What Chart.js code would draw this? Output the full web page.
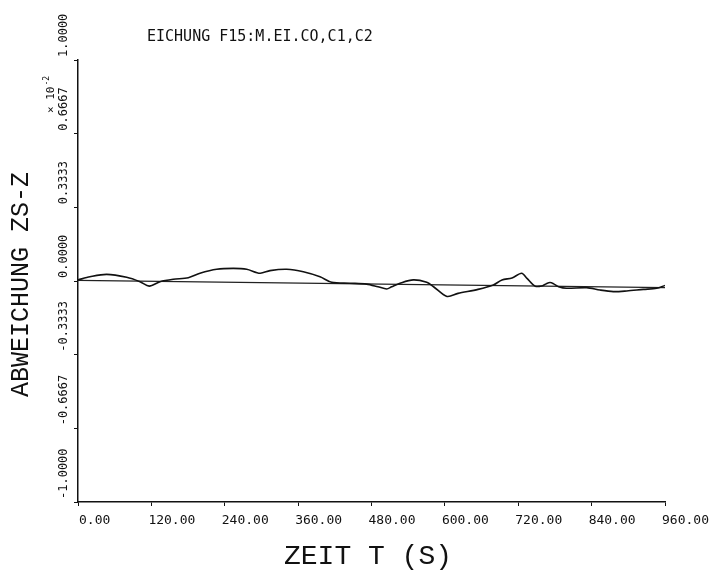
<!DOCTYPE html>
<html><head><meta charset="utf-8">
<script src="https://cdn.jsdelivr.net/npm/chart.js@4"></script>
<style>html,body{margin:0;padding:0;background:#fff}#wrap{width:719px;height:570px}</style>
</head><body><div id="wrap"><canvas id="c" width="719" height="570"></canvas></div>
<script>
// ---- data ----
const times = [0, 19.6, 46.9, 79.6, 101.4, 116.6, 134.1, 155.9, 180.4, 199.5, 226.8, 254, 275.9, 297.7, 314, 341.3, 368.5, 395.8, 414.9, 444.8, 472.1, 490.6, 504.9, 513, 526.6, 548.4, 570.3, 581, 603.5, 621.5, 654.2, 679.2, 693.4, 709.8, 725.6, 734.3, 747.4, 758, 766, 772, 778, 786, 799.2, 831.9, 853.7, 875.4, 897.3, 924.5, 946.4, 960];
const deviation = [0.005, 0.019, 0.030, 0.017, -0.003, -0.023, -0.003, 0.008, 0.015, 0.035, 0.053, 0.057, 0.053, 0.035, 0.047, 0.053, 0.042, 0.019, -0.006, -0.010, -0.014, -0.026, -0.036, -0.026, -0.010, 0.005, -0.006, -0.025, -0.070, -0.056, -0.038, -0.018, 0.005, 0.014, 0.035, 0.012, -0.023, -0.023, -0.012, -0.007, -0.013, -0.026, -0.033, -0.030, -0.041, -0.048, -0.045, -0.038, -0.033, -0.020];
const refTimes = [0, 960];
const refValues = [0.003, -0.030];
const xTicks = [0, 120, 240, 360, 480, 600, 720, 840, 960];
const xTickLabels = ['0.00', '120.00', '240.00', '360.00', '480.00', '600.00', '720.00', '840.00', '960.00'];
const yTicks = [-1, -2/3, -1/3, 0, 1/3, 2/3, 1];
const yTickLabels = ['-1.0000', '-0.6667', '-0.3333', '0.0000', '0.3333', '0.6667', '1.0000'];
const titleText = 'EICHUNG F15:M.EI.CO,C1,C2';
const xTitle = 'ZEIT T (S)';
const yTitle = 'ABWEICHUNG ZS-Z';

const curvePts = times.map((t, i) => ({x: t, y: deviation[i]}));
const refPts = refTimes.map((t, i) => ({x: t, y: refValues[i]}));

const textPlugin = {
  id: 'plotterText',
  afterDraw(chart) {
    const ctx = chart.ctx;
    const xs = chart.scales.x, ys = chart.scales.y;
    ctx.save();
    ctx.fillStyle = '#111';
    // title
    ctx.font = '15px "DejaVu Sans Mono"';
    ctx.textAlign = 'left'; ctx.textBaseline = 'middle';
    ctx.fillText(titleText, 147, 37);
    // x tick labels
    ctx.font = '13px "DejaVu Sans Mono"';
    xTicks.forEach((v, i) => {
      const px = xs.getPixelForValue(v);
      ctx.fillText(xTickLabels[i], i === 0 ? px + 1 : px - 3, 521);
    });
    // x title
    ctx.font = '28px "Liberation Mono"';
    ctx.textAlign = 'center';
    ctx.fillText(xTitle, 368, 557);
    // y tick labels rotated
    ctx.font = '12px "DejaVu Sans Mono"';
    ctx.textAlign = 'left';
    yTicks.forEach((v, i) => {
      const py = ys.getPixelForValue(v);
      ctx.save();
      ctx.translate(64, py - 3);
      ctx.rotate(-Math.PI / 2);
      ctx.fillText(yTickLabels[i], 0, 0);
      ctx.restore();
    });
    // y title
    ctx.save();
    ctx.translate(21, 397);
    ctx.rotate(-Math.PI / 2);
    ctx.font = '25px "Liberation Mono"';
    ctx.fillText(yTitle, 0, 0);
    ctx.restore();
    // scale factor
    ctx.save();
    ctx.translate(51, 113);
    ctx.rotate(-Math.PI / 2);
    ctx.font = '11px "DejaVu Sans Mono"';
    ctx.fillText('\u00d7 10', 0, 0);
    const w = ctx.measureText('\u00d7 10').width;
    ctx.font = '8px "DejaVu Sans Mono"';
    ctx.fillText('-2', w + 1, -4);
    ctx.restore();
    ctx.restore();
  }
};

new Chart(document.getElementById('c'), {
  type: 'line',
  data: {
    datasets: [
      {data: curvePts, borderColor: '#111', borderWidth: 1.6, pointRadius: 0, tension: 0.3, fill: false},
      {data: refPts, borderColor: '#222', borderWidth: 1.2, pointRadius: 0, tension: 0, fill: false}
    ]
  },
  options: {
    responsive: false,
    animation: false,
    devicePixelRatio: 1,
    layout: {padding: {left: 74, right: 54, top: 60, bottom: 64}},
    plugins: {legend: {display: false}, title: {display: false}, tooltip: {enabled: false}},
    scales: {
      x: {
        type: 'linear', min: 0, max: 960,
        afterBuildTicks: s => { s.ticks = xTicks.map(v => ({value: v})); },
        ticks: {display: false},
        grid: {display: true, drawOnChartArea: false, drawTicks: true, tickLength: 4, color: '#111', lineWidth: 1},
        border: {display: true, color: '#111', width: 1.5}
      },
      y: {
        type: 'linear', min: -1, max: 1,
        afterBuildTicks: s => { s.ticks = yTicks.map(v => ({value: v})); },
        ticks: {display: false},
        grid: {display: true, drawOnChartArea: false, drawTicks: true, tickLength: 4, color: '#111', lineWidth: 1},
        border: {display: true, color: '#111', width: 1.5}
      }
    }
  },
  plugins: [textPlugin]
});
</script>
</body></html>
